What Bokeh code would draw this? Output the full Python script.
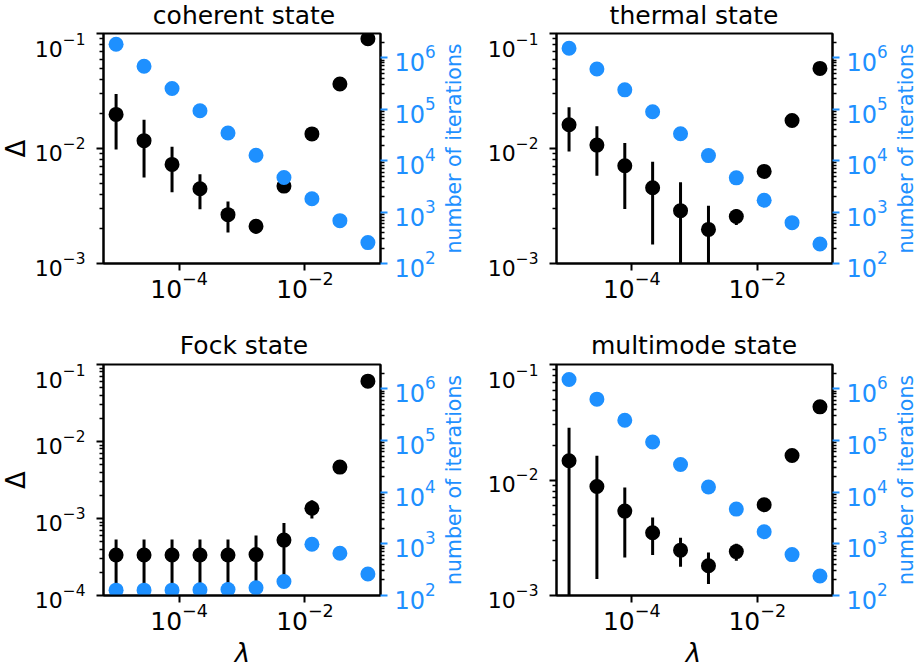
import math
from bokeh.plotting import figure
from bokeh.models import Range1d, LogScale, LogAxis, LinearAxis, FixedTicker, Label
from bokeh.layouts import column, row
from bokeh.embed import file_html
from bokeh.resources import INLINE

# ---------------- data ----------------
lam = [1e-5, 2.78e-5, 7.74e-5, 2.15e-4, 5.99e-4, 1.67e-3, 4.64e-3, 1.29e-2, 3.59e-2, 1e-1]

coherent_delta = [0.0198, 0.0117, 0.00727, 0.00447, 0.00266, 0.00211, 0.00471, 0.0134, 0.0364, 0.090]
coherent_err = [0.0100, 0.0061, 0.0031, 0.0015, 0.0008, 0.0003, 0.0002, 0.0, 0.0, 0.0]
coherent_iter = [1.82e6, 6.81e5, 2.51e5, 9.29e4, 3.44e4, 1.27e4, 4.69e3, 1.81e3, 680, 255]

thermal_delta = [0.0161, 0.0107, 0.00708, 0.00456, 0.00288, 0.00198, 0.00256, 0.00632, 0.0175, 0.0497]
thermal_err = [0.0067, 0.0049, 0.0041, 0.0031, 0.0022, 0.0012, 0.0004, 0.0, 0.0, 0.0]
thermal_iter = [1.52e6, 6.04e5, 2.37e5, 8.89e4, 3.33e4, 1.25e4, 4.62e3, 1.70e3, 622, 240]

fock_delta = [3.35e-4, 3.35e-4, 3.35e-4, 3.35e-4, 3.35e-4, 3.4e-4, 5.24e-4, 1.36e-3, 4.65e-3, 0.0608]
fock_err = [2.0e-4, 2.0e-4, 2.0e-4, 2.0e-4, 2.0e-4, 2.6e-4, 3.5e-4, 3.6e-4, 0.0, 0.0]
fock_iter = [127, 127, 127, 129, 131, 141, 187, 981, 656, 261]

multimode_delta = [0.01466, 0.00879, 0.00538, 0.00349, 0.00247, 0.00181, 0.00240, 0.00610, 0.0163, 0.0430]
multimode_err = [0.0137, 0.0074, 0.00325, 0.00125, 0.0007, 0.00055, 0.0004, 0.0, 0.0, 0.0]
multimode_iter = [1.51e6, 6.30e5, 2.46e5, 9.31e4, 3.43e4, 1.26e4, 4.70e3, 1.71e3, 619, 238]

titles = ["coherent state", "thermal state", "Fock state", "multimode state"]
y_label = "Δ"
x_label = "λ"
right_label = "number of iterations"
x_ticks = [1e-4, 1e-2]
left_ticks = [1e-4, 1e-3, 1e-2, 1e-1]
left_minor = [m * d for d in [1e-5, 1e-4, 1e-3, 1e-2] for m in range(2, 10)]
right_ticks = [1e2, 1e3, 1e4, 1e5, 1e6]
right_minor = [m * d for d in [1e2, 1e3, 1e4, 1e5, 1e6] for m in range(2, 10)]

FONT = "DejaVu Sans"
BLUE = "#1E90FF"
RL_SIZE = "20.5px"
W = 917


def blank(width, height, borders=(0, 0, 0, 0)):
    bl, br, bt, bb = borders
    s = figure(width=width, height=height, x_axis_location=None, y_axis_location=None,
               x_range=Range1d(0, 1), y_range=Range1d(0, 1),
               output_backend="svg", toolbar_location=None, title=None,
               min_border_left=bl, min_border_right=br, min_border_top=bt, min_border_bottom=bb)
    s.outline_line_color = None
    s.xgrid.visible = False
    s.ygrid.visible = False
    s.background_fill_color = "white"
    s.border_fill_color = "white"
    return s


def label_axis(text, standoff):
    """An axis without ticks that only carries the blue 'number of iterations' label."""
    ax = LinearAxis(ticker=FixedTicker(ticks=[], minor_ticks=[]))
    ax.axis_line_color = None
    ax.major_tick_out = 0
    ax.major_tick_in = 0
    ax.minor_tick_out = 0
    ax.minor_tick_in = 0
    ax.major_label_standoff = 0
    ax.major_label_text_font_size = "0px"
    ax.axis_label = text
    ax.axis_label_text_font = FONT
    ax.axis_label_text_font_size = RL_SIZE
    ax.axis_label_text_font_style = "normal"
    ax.axis_label_text_color = BLUE
    ax.axis_label_standoff = standoff
    return ax


def text_strip(height, texts, center_from_bottom, size, style="normal"):
    s = blank(W, height)
    for t, xc in texts:
        s.add_layout(Label(text=t, x=xc, y=center_from_bottom, x_units="screen", y_units="screen",
                           text_align="center", text_baseline="middle", text_font_style=style,
                           text_font=FONT, text_font_size=size, text_color="black"))
    return s


def delta_strip(height, bt, bb):
    # the frame of this strip lines up with the frames of the panels in its row
    s = blank(31, height, (0, 0, bt, bb))
    fh = height - bt - bb
    s.add_layout(Label(text=y_label, x=15.2, y=fh / 2, x_units="screen", y_units="screen",
                       angle=math.pi / 2, text_align="center", text_baseline="middle",
                       text_font=FONT, text_font_size="26px", text_color="black"))
    return s


def panel(delta, err, iters, ymin, width, height, borders, carry_label_standoff=None):
    bl, br, bt, bb = borders
    p = figure(width=width, height=height, x_axis_type="log", y_axis_type="log",
               x_range=Range1d(10 ** -5.2, 10 ** -0.8), y_range=Range1d(ymin, 1e-1),
               output_backend="svg", toolbar_location=None, title=None,
               min_border_left=bl, min_border_right=br, min_border_top=bt, min_border_bottom=bb)
    p.extra_y_ranges = {"it": Range1d(100, 2.95e6)}
    p.extra_y_scales = {"it": LogScale()}
    p.xgrid.visible = False
    p.ygrid.visible = False
    p.outline_line_color = "black"
    p.outline_line_width = 2
    p.outline_line_alpha = 1
    p.background_fill_color = "white"
    p.border_fill_color = "white"

    xa = p.xaxis[0]
    xa.ticker = FixedTicker(ticks=x_ticks, minor_ticks=[])
    ya = p.yaxis[0]
    ya.ticker = FixedTicker(ticks=left_ticks, minor_ticks=left_minor)
    for ax in (xa, ya):
        ax.axis_line_width = 2
        ax.axis_line_color = "black"
        ax.major_tick_line_width = 2
        ax.major_tick_out = 7
        ax.major_tick_in = 0
        ax.minor_tick_line_width = 1.5
        ax.minor_tick_out = 4
        ax.minor_tick_in = 0
        ax.major_label_text_font = FONT
        ax.major_label_text_color = "black"
    xa.major_label_text_font_size = "25px"
    xa.major_label_standoff = 0
    ya.major_label_text_font_size = "22px"
    ya.major_label_standoff = 11

    # blue label belonging to the panel on the left (reads bottom-to-top)
    if carry_label_standoff is not None:
        p.add_layout(label_axis(right_label, carry_label_standoff), "left")

    ra = LogAxis(y_range_name="it", ticker=FixedTicker(ticks=right_ticks, minor_ticks=right_minor))
    ra.axis_line_width = 2
    ra.axis_line_color = "black"
    ra.major_tick_line_color = BLUE
    ra.major_tick_line_width = 2
    ra.major_tick_out = 7
    ra.major_tick_in = 0
    ra.minor_tick_line_color = "black"
    ra.minor_tick_line_width = 1.5
    ra.minor_tick_out = 4
    ra.minor_tick_in = 0
    ra.major_label_text_font = FONT
    ra.major_label_text_font_size = "24px"
    ra.major_label_text_color = BLUE
    ra.major_label_standoff = 7
    p.add_layout(ra, "right")

    lo = [d - e for d, e in zip(delta, err)]
    hi = [d + e for d, e in zip(delta, err)]
    p.segment(x0=lam, y0=lo, x1=lam, y1=hi, line_color="black", line_width=3)
    p.scatter(x=lam, y=delta, size=15, fill_color="black", line_color="black", line_width=0)
    p.scatter(x=lam, y=iters, size=15, fill_color=BLUE, line_color=BLUE, line_width=0,
              y_range_name="it")
    return p


def right_strip(height, bt, bb):
    s = blank(27, height, (25, 0, bt, bb))
    s.add_layout(label_axis(right_label, 0), "left")
    return s


# top row: frame y 33..263 ; bottom row: frame y 364..595
t1 = text_strip(32, [(titles[0], 243.5), (titles[1], 693.5)], 17, "25px")
r1 = row(delta_strip(288, 1, 57),
         panel(coherent_delta, coherent_err, coherent_iter, 1e-3, 407, 288, (72, 54, 1, 57)),
         panel(thermal_delta, thermal_err, thermal_iter, 1e-3, 452, 288, (115, 56, 1, 57),
               carry_label_standoff=19),
         right_strip(288, 1, 57))
t2 = text_strip(43, [(titles[2], 243.5), (titles[3], 693.5)], 18.5, "25px")
r2 = row(delta_strip(274, 1, 42),
         panel(fock_delta, fock_err, fock_iter, 1e-4, 407, 274, (72, 54, 1, 42)),
         panel(multimode_delta, multimode_err, multimode_iter, 1e-3, 452, 274, (115, 56, 1, 42),
               carry_label_standoff=19),
         right_strip(274, 1, 42))
t3 = text_strip(34, [(x_label, 242), (x_label, 693)], 19, "26px", style="italic")

layout = column(t1, r1, t2, r2, t3)
open("out.html", "w").write(file_html(layout, INLINE))
